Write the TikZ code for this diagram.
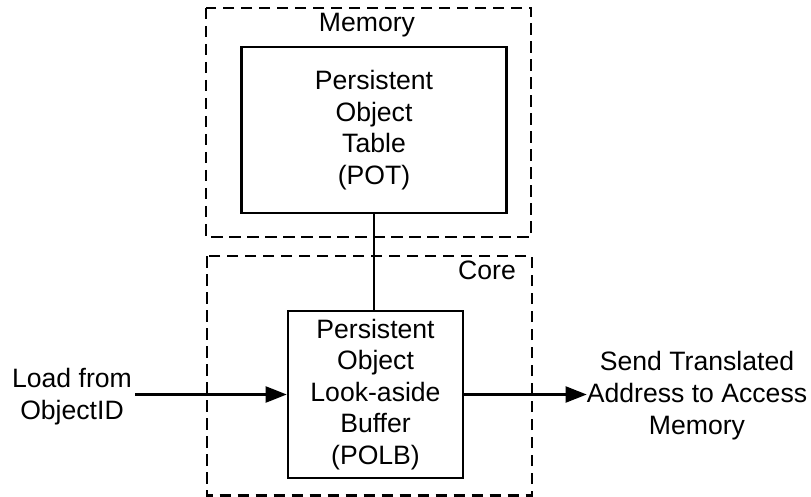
\documentclass[tikz,border=0pt]{standalone}
\usepackage{fontspec}
\setmainfont{Liberation Sans}
\usetikzlibrary{arrows.meta}
\begin{document}
\begin{tikzpicture}[x=1pt,y=-1pt,
  txt/.style={font=\fontsize{26.6}{31.6}\selectfont, align=center},
  block/.style={txt, draw, line width=2.6pt, inner sep=0pt},
  region/.style={draw, line width=2.2pt, dash pattern=on 11.5pt off 6.5pt},
  wire/.style={line width=2.2pt},
  flow/.style={wire, -{Triangle[length=21pt,width=16pt]}}]
\useasboundingbox (0,0) rectangle (811,497);

% dashed regions
\draw[region] (206,8) rectangle (531,237);
\draw[region] (207,256) rectangle (532,495.5);
\node[txt, anchor=base] (memlabel) at (367,32) {Memory};
\node[txt, anchor=base east, inner sep=0pt] (corelabel) at (516,279) {Core};

% blocks
\node[block, minimum width=265pt, minimum height=166pt] (pot) at (374,130)
  {Persistent\\Object\\Table\\(POT)};
\node[block, minimum width=175pt, minimum height=167pt] (polb) at (375.5,394.5)
  {Persistent\\Object\\Look-aside\\Buffer\\(POLB)};

% external labels
\node[txt, inner xsep=3pt, inner ysep=0pt] (load) at (72,396.6) {Load from\\ObjectID};
\node[txt, inner xsep=0pt, inner ysep=0pt] (send) at (697,395.6) {Send Translated\\Address to Access\\Memory};

% connectors
\draw[wire] (pot.south) -- (pot.south |- polb.north);
\draw[flow] (load.east |- polb.west) -- (polb.west);
\draw[flow] (polb.east) -- (send.west |- polb.east);
\end{tikzpicture}
\end{document}
